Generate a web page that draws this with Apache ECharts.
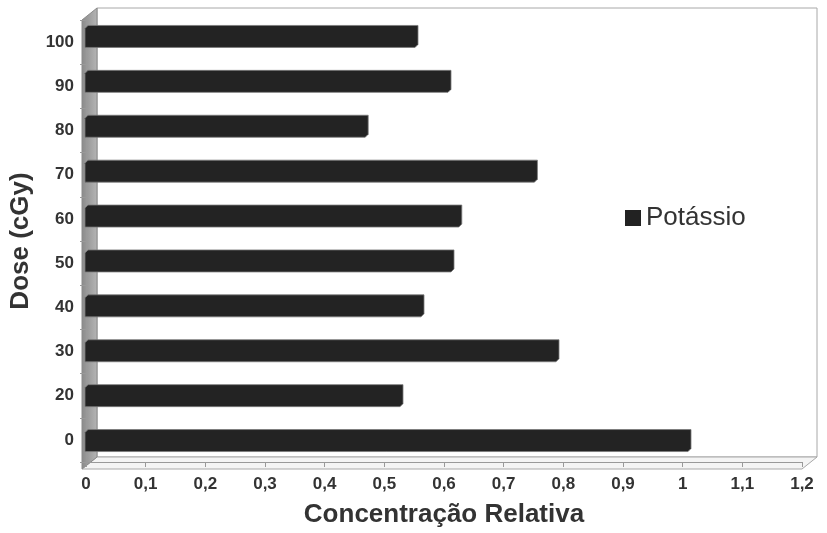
<!DOCTYPE html>
<html>
<head>
<meta charset="utf-8">
<script src="https://cdn.jsdelivr.net/npm/echarts@6/dist/echarts.min.js"></script>
<style>
  html, body { margin: 0; padding: 0; background: #fff; }
  #main { width: 827px; height: 533px; }
</style>
</head>
<body>
<div id="main"></div>
<script>
// dose categories, bottom to top
var doses = ['0', '20', '30', '40', '50', '60', '70', '80', '90', '100'];
// relative concentration
var potassio = [1.01, 0.53, 0.79, 0.565, 0.615, 0.628, 0.754, 0.472, 0.61, 0.555];
var xTicks = ['0', '0,1', '0,2', '0,3', '0,4', '0,5', '0,6', '0,7', '0,8', '0,9', '1', '1,1', '1,2'];

var font = 'Arial, "Liberation Sans", sans-serif';
var txt = '#333';

// plot box (front) and 3d depth offset
var G = { l: 82, t: 20, r: 802, b: 469 };
var D = { dx: 15, dy: -12 };

var chart = echarts.init(document.getElementById('main'), null, { renderer: 'canvas' });

var walls = [
  { // back wall
    type: 'polygon', silent: true, z: -10,
    shape: { points: [[G.l + D.dx, G.t + D.dy], [G.r + D.dx, G.t + D.dy], [G.r + D.dx, G.b + D.dy], [G.l + D.dx, G.b + D.dy]] },
    style: { fill: '#fff', stroke: '#a8a8a8', lineWidth: 1 }
  },
  { // floor
    type: 'polygon', silent: true, z: -9,
    shape: { points: [[G.l, G.b], [G.l + D.dx, G.b + D.dy], [G.r + D.dx, G.b + D.dy], [G.r, G.b]] },
    style: { fill: '#f4f4f4', stroke: '#a8a8a8', lineWidth: 1 }
  },
  { // left wall
    type: 'polygon', silent: true, z: -8,
    shape: { points: [[G.l, G.t], [G.l + D.dx, G.t + D.dy], [G.l + D.dx, G.b + D.dy], [G.l, G.b]] },
    style: {
      fill: new echarts.graphic.LinearGradient(0, 0, 1, 0, [
        { offset: 0, color: '#8a8a8a' }, { offset: 1, color: '#b5b5b5' }
      ]),
      stroke: '#8a8a8a', lineWidth: 1
    }
  }
];

var option = {
  backgroundColor: '#fff',
  animation: false,
  graphic: walls,
  legend: {
    data: [{ name: 'Potássio', icon: 'rect' }],
    left: 620, top: 200,
    itemWidth: 16, itemHeight: 16, itemGap: 6,
    textStyle: { fontFamily: font, fontSize: 26, color: txt }
  },
  grid: [
    { left: G.l, top: G.t, width: G.r - G.l, height: G.b - G.t },
    { left: G.l + 3, top: G.t - 6, width: G.r - G.l, height: G.b - G.t }
  ],
  xAxis: [
    {
      gridIndex: 0, type: 'value', min: 0, max: 1.2, interval: 0.1,
      name: 'Concentração Relativa', nameLocation: 'middle', nameGap: 40, nameMoveOverlap: false,
      nameTextStyle: { fontFamily: font, fontSize: 26, fontWeight: 'bold', color: txt },
      axisLine: { show: true, lineStyle: { color: '#999', width: 1 } },
      axisTick: { show: true, length: 5, lineStyle: { color: '#999' } },
      splitLine: { show: false },
      axisLabel: {
        margin: 14, fontFamily: font, fontSize: 17, fontWeight: 'bold', color: txt,
        formatter: function (v) { return xTicks[Math.round(v * 10)]; }
      }
    },
    { gridIndex: 1, type: 'value', min: 0, max: 1.2, show: false }
  ],
  yAxis: [
    {
      gridIndex: 0, type: 'category', data: doses, boundaryGap: true,
      name: 'Dose (cGy)', nameLocation: 'middle', nameGap: 52, nameRotate: 90,
      nameTextStyle: { fontFamily: font, fontSize: 26, fontWeight: 'bold', color: txt },
      axisLine: { show: true, lineStyle: { color: '#999', width: 1 } },
      axisTick: { show: true, length: 6, inside: false, lineStyle: { color: '#999' } },
      axisLabel: { margin: 12, fontFamily: font, fontSize: 17, fontWeight: 'bold', color: txt },
      splitLine: { show: false }
    },
    { gridIndex: 1, type: 'category', data: doses, show: false }
  ],
  series: [
    {
      name: 'Potássio', type: 'custom', xAxisIndex: 1, yAxisIndex: 1,
      itemStyle: { color: '#222' },
      data: potassio.map(function (v, i) { return [v, i]; }),
      encode: { x: 0, y: 1 },
      renderItem: function (params, api) {
        var end = api.coord([api.value(0), api.value(1)]);
        var start = api.coord([0, api.value(1)]);
        var h = api.size([0, 1])[1] * 0.49;
        var t = end[1] - h / 2, b = end[1] + h / 2, c = 3;
        return {
          type: 'polygon',
          shape: { points: [
            [start[0], t + c], [start[0] + c, t], [end[0], t],
            [end[0], b - c], [end[0] - c, b], [start[0], b]
          ] },
          style: { fill: '#232323', stroke: '#7a7a7a', lineWidth: 0.8 }
        };
      }
    }
  ]
};
chart.setOption(option);
</script>
</body>
</html>
